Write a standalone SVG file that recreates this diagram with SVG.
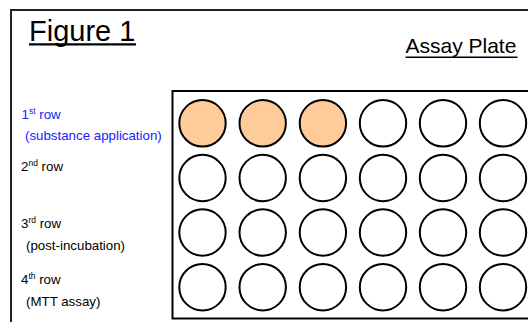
<svg xmlns="http://www.w3.org/2000/svg" width="528" height="322" viewBox="0 0 528 322">
  <style>
    .frame { fill: #ffffff; stroke: #222222; stroke-width: 2; }
    .plate { fill: #ffffff; stroke: #000000; stroke-width: 2; }
    .well { fill: #ffffff; stroke: #000000; stroke-width: 2; }
    .well.loaded { fill: #ffcc99; }
    .title { font-family: "Liberation Sans", Arial, sans-serif; fill: #000000; }
    .lbl { font-family: "Liberation Sans", Arial, sans-serif; font-size: 13.3px; fill: #000000; }
    .lbl.blue { fill: #2020ff; }
    .sup { font-size: 8.5px; }
    .ul { stroke: #000000; }
  </style>

  <rect width="528" height="322" fill="#ffffff"/>

  <!-- outer frame (runs past the right and bottom edges) -->
  <rect class="frame" x="11" y="10" width="540" height="340"/>

  <!-- headings -->
  <g id="heading-figure">
    <text class="title" x="29" y="40.5" font-size="29">Figure 1</text>
    <line class="ul" x1="29" y1="44.3" x2="136" y2="44.3" stroke-width="2.2"/>
  </g>
  <g id="heading-plate">
    <text class="title" x="405.5" y="53.3" font-size="21">Assay Plate</text>
    <line class="ul" x1="405.5" y1="57.3" x2="517.5" y2="57.3" stroke-width="1.6"/>
  </g>

  <!-- row labels -->
  <g id="label-row1">
    <text class="lbl blue" x="21.5" y="118.5">1<tspan class="sup" dy="-5">st</tspan><tspan dy="5"> row</tspan></text>
    <text class="lbl blue" x="25" y="140">(substance application)</text>
  </g>
  <g id="label-row2">
    <text class="lbl" x="21" y="170.7">2<tspan class="sup" dy="-5">nd</tspan><tspan dy="5"> row</tspan></text>
  </g>
  <g id="label-row3">
    <text class="lbl" x="21" y="228.3">3<tspan class="sup" dy="-5">rd</tspan><tspan dy="5"> row</tspan></text>
    <text class="lbl" x="26" y="250">(post-incubation)</text>
  </g>
  <g id="label-row4">
    <text class="lbl" x="21" y="284">4<tspan class="sup" dy="-5">th</tspan><tspan dy="5"> row</tspan></text>
    <text class="lbl" x="26" y="306">(MTT assay)</text>
  </g>

  <!-- assay plate -->
  <g id="plate">
    <rect class="plate" x="172.5" y="91" width="380" height="227.5"/>
  </g>

  <!-- wells: 4 rows x 6 columns -->
  <g id="wells-row1">
    <circle class="well loaded" cx="202.5" cy="123.3" r="23.2"/>
    <circle class="well loaded" cx="262.7" cy="123.3" r="23.2"/>
    <circle class="well loaded" cx="322.9" cy="123.3" r="23.2"/>
    <circle class="well" cx="383" cy="123.3" r="23.2"/>
    <circle class="well" cx="443" cy="123.3" r="23.2"/>
    <circle class="well" cx="503" cy="123.3" r="23.2"/>
  </g>
  <g id="wells-row2">
    <circle class="well" cx="202.5" cy="178" r="23.2"/>
    <circle class="well" cx="262.7" cy="178" r="23.2"/>
    <circle class="well" cx="322.9" cy="178" r="23.2"/>
    <circle class="well" cx="383" cy="178" r="23.2"/>
    <circle class="well" cx="443" cy="178" r="23.2"/>
    <circle class="well" cx="503" cy="178" r="23.2"/>
  </g>
  <g id="wells-row3">
    <circle class="well" cx="202.5" cy="232.5" r="23.2"/>
    <circle class="well" cx="262.7" cy="232.5" r="23.2"/>
    <circle class="well" cx="322.9" cy="232.5" r="23.2"/>
    <circle class="well" cx="383" cy="232.5" r="23.2"/>
    <circle class="well" cx="443" cy="232.5" r="23.2"/>
    <circle class="well" cx="503" cy="232.5" r="23.2"/>
  </g>
  <g id="wells-row4">
    <circle class="well" cx="202.5" cy="287.2" r="23.2"/>
    <circle class="well" cx="262.7" cy="287.2" r="23.2"/>
    <circle class="well" cx="322.9" cy="287.2" r="23.2"/>
    <circle class="well" cx="383" cy="287.2" r="23.2"/>
    <circle class="well" cx="443" cy="287.2" r="23.2"/>
    <circle class="well" cx="503" cy="287.2" r="23.2"/>
  </g>

  <!-- no connectors in this figure -->
  <g id="connectors"/>
</svg>
